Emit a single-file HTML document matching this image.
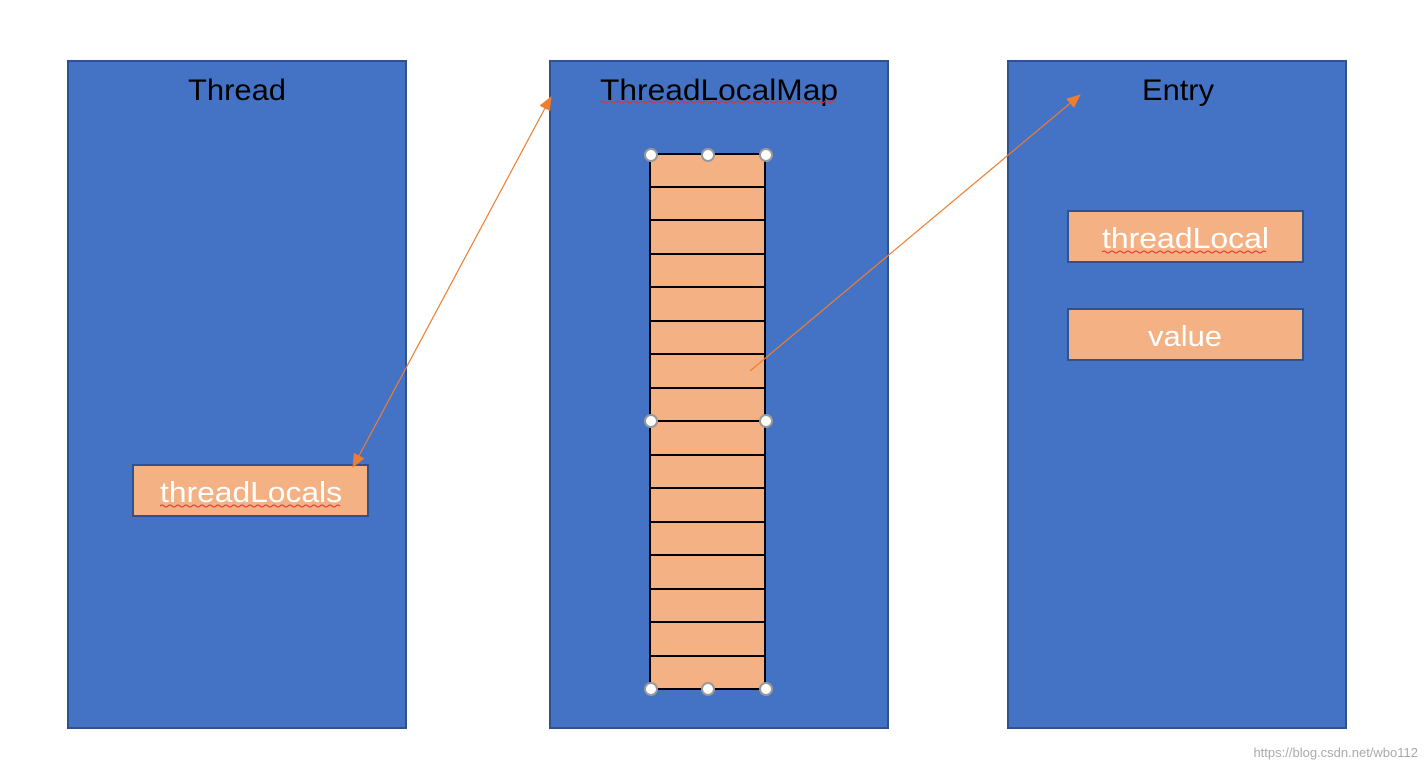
<!DOCTYPE html>
<html><head><meta charset="utf-8"><style>
html,body{margin:0;padding:0;background:#fff;}
svg{display:block;}
text{font-family:"Liberation Sans",sans-serif;}
</style></head><body>
<svg width="1425" height="771" viewBox="0 0 1425 771" xmlns="http://www.w3.org/2000/svg">
<defs>
<marker id="ah" markerWidth="14" markerHeight="12" refX="13" refY="6" orient="auto" markerUnits="userSpaceOnUse">
<path d="M0,0 L14,6 L0,12 z" fill="#ED7D31"/>
</marker>
<marker id="as" markerWidth="14" markerHeight="12" refX="1" refY="6" orient="auto" markerUnits="userSpaceOnUse">
<path d="M14,0 L0,6 L14,12 z" fill="#ED7D31"/>
</marker>
</defs>
<rect x="68" y="61" width="338" height="667" fill="#4472C4" stroke="#2F528F" stroke-width="2"/>
<rect x="550" y="61" width="338" height="667" fill="#4472C4" stroke="#2F528F" stroke-width="2"/>
<rect x="1008" y="61" width="338" height="667" fill="#4472C4" stroke="#2F528F" stroke-width="2"/>
<text x="188" y="100" font-size="30" textLength="98" lengthAdjust="spacingAndGlyphs" fill="#000">Thread</text>
<text x="600" y="100" font-size="30" textLength="238" lengthAdjust="spacingAndGlyphs" fill="#000">ThreadLocalMap</text>
<text x="1142" y="100" font-size="30" textLength="72" lengthAdjust="spacingAndGlyphs" fill="#000">Entry</text>
<path d="M600,102 q2,-2 4,0 t4,0 t4,0 t4,0 t4,0 t4,0 t4,0 t4,0 t4,0 t4,0 t4,0 t4,0 t4,0 t4,0 t4,0 t4,0 t4,0 t4,0 t4,0 t4,0 t4,0 t4,0 t4,0 t4,0 t4,0 t4,0 t4,0 t4,0 t4,0 t4,0 t4,0 t4,0 t4,0 t4,0 t4,0 t4,0 t4,0 t4,0 t4,0 t4,0 t4,0 t4,0 t4,0 t4,0 t4,0 t4,0 t4,0 t4,0 t4,0 t4,0 t4,0 t4,0 t4,0 t4,0 t4,0 t4,0 t4,0 t4,0 t4,0" fill="none" stroke="#e03030" stroke-width="1"/>
<rect x="133" y="465" width="235" height="51" fill="#F4B183" stroke="#2F528F" stroke-width="2"/>
<text x="160" y="502" font-size="29" textLength="182" lengthAdjust="spacingAndGlyphs" fill="#fff">threadLocals</text>
<path d="M160,506 q2,-2 4,0 t4,0 t4,0 t4,0 t4,0 t4,0 t4,0 t4,0 t4,0 t4,0 t4,0 t4,0 t4,0 t4,0 t4,0 t4,0 t4,0 t4,0 t4,0 t4,0 t4,0 t4,0 t4,0 t4,0 t4,0 t4,0 t4,0 t4,0 t4,0 t4,0 t4,0 t4,0 t4,0 t4,0 t4,0 t4,0 t4,0 t4,0 t4,0 t4,0 t4,0 t4,0 t4,0 t4,0 t4,0" fill="none" stroke="#e03030" stroke-width="1"/>
<rect x="1068" y="211" width="235" height="51" fill="#F4B183" stroke="#2F528F" stroke-width="2"/>
<text x="1102" y="248" font-size="29" textLength="167" lengthAdjust="spacingAndGlyphs" fill="#fff">threadLocal</text>
<path d="M1102,252 q2,-2 4,0 t4,0 t4,0 t4,0 t4,0 t4,0 t4,0 t4,0 t4,0 t4,0 t4,0 t4,0 t4,0 t4,0 t4,0 t4,0 t4,0 t4,0 t4,0 t4,0 t4,0 t4,0 t4,0 t4,0 t4,0 t4,0 t4,0 t4,0 t4,0 t4,0 t4,0 t4,0 t4,0 t4,0 t4,0 t4,0 t4,0 t4,0 t4,0 t4,0 t4,0" fill="none" stroke="#e03030" stroke-width="1"/>
<rect x="1068" y="309" width="235" height="51" fill="#F4B183" stroke="#2F528F" stroke-width="2"/>
<text x="1148" y="346" font-size="29" textLength="74" lengthAdjust="spacingAndGlyphs" fill="#fff">value</text>
<rect x="650" y="154" width="115" height="535" fill="#F4B183" stroke="#000" stroke-width="2"/>
<g stroke="#000" stroke-width="2">
<line x1="650" y1="187" x2="765" y2="187"/><line x1="650" y1="220" x2="765" y2="220"/>
<line x1="650" y1="254" x2="765" y2="254"/><line x1="650" y1="287" x2="765" y2="287"/>
<line x1="650" y1="321" x2="765" y2="321"/><line x1="650" y1="354" x2="765" y2="354"/>
<line x1="650" y1="388" x2="765" y2="388"/><line x1="650" y1="421" x2="765" y2="421"/>
<line x1="650" y1="455" x2="765" y2="455"/><line x1="650" y1="488" x2="765" y2="488"/>
<line x1="650" y1="522" x2="765" y2="522"/><line x1="650" y1="555" x2="765" y2="555"/>
<line x1="650" y1="589" x2="765" y2="589"/><line x1="650" y1="622" x2="765" y2="622"/>
<line x1="650" y1="656" x2="765" y2="656"/>
</g>
<g fill="#fff" stroke="#999" stroke-width="2">
<circle cx="651" cy="155" r="6"/><circle cx="708" cy="155" r="6"/><circle cx="766" cy="155" r="6"/>
<circle cx="651" cy="421" r="6"/><circle cx="766" cy="421" r="6"/>
<circle cx="651" cy="689" r="6"/><circle cx="708" cy="689" r="6"/><circle cx="766" cy="689" r="6"/>
</g>
<line x1="353" y1="467" x2="551" y2="97" stroke="#ED7D31" stroke-width="1.2" marker-start="url(#as)" marker-end="url(#ah)"/>
<line x1="750" y1="371" x2="1080" y2="95" stroke="#ED7D31" stroke-width="1.2" marker-end="url(#ah)"/>
<text x="1418" y="757" font-size="13" text-anchor="end" fill="#aaaaaa">https://blog.csdn.net/wbo112</text>
</svg>
</body></html>
